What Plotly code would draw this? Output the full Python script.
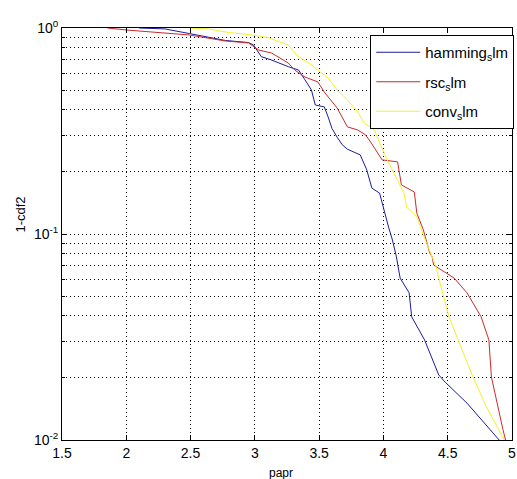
import plotly.graph_objects as go

# ---- data ----
hamming_x = [2.10, 2.30, 2.49, 2.77, 2.95, 2.99, 3.05, 3.13, 3.26, 3.34, 3.39, 3.44, 3.47, 3.54,
             3.57, 3.60, 3.64, 3.68, 3.72, 3.82, 3.87, 3.91, 3.97, 4.01, 4.04, 4.07, 4.10, 4.13,
             4.20, 4.22, 4.32, 4.43, 4.48, 4.65, 4.90]
hamming_y = [1.0, 0.99, 0.94, 0.87, 0.85, 0.827, 0.726, 0.699, 0.649, 0.625, 0.560, 0.500, 0.423, 0.414,
             0.370, 0.325, 0.295, 0.271, 0.258, 0.242, 0.205, 0.167, 0.158, 0.126, 0.108, 0.0935, 0.078, 0.0611,
             0.0518, 0.0396, 0.0306, 0.0207, 0.0191, 0.0151, 0.0100]

rsc_x = [1.855, 2.0, 2.49, 2.64, 2.77, 2.95, 3.03, 3.13, 3.26, 3.31, 3.39, 3.49, 3.54, 3.59, 3.64,
         3.72, 3.80, 3.86, 3.89, 3.99, 4.11, 4.14, 4.24, 4.26, 4.31, 4.36, 4.38, 4.39, 4.55, 4.65,
         4.76, 4.82, 4.84, 4.93, 4.95]
rsc_y = [1.0, 0.978, 0.925, 0.894, 0.865, 0.846, 0.782, 0.756, 0.676, 0.625, 0.578, 0.547, 0.489, 0.447, 0.409,
         0.331, 0.320, 0.303, 0.286, 0.229, 0.224, 0.173, 0.160, 0.126, 0.105, 0.0809, 0.0773, 0.0707, 0.0611, 0.0518,
         0.0396, 0.0306, 0.0202, 0.0112, 0.0100]

conv_x = [2.49, 2.64, 2.80, 2.95, 3.10, 3.20, 3.26, 3.34, 3.41, 3.49, 3.57, 3.64, 3.72, 3.80, 3.85,
          3.93, 3.97, 4.03, 4.08, 4.16, 4.18, 4.26, 4.31, 4.38, 4.41, 4.43, 4.51, 4.59, 4.70, 4.80, 4.94]
conv_y = [1.0, 0.99, 0.95, 0.93, 0.90, 0.855, 0.827, 0.723, 0.684, 0.625, 0.572, 0.500, 0.447, 0.391, 0.346,
          0.320, 0.277, 0.229, 0.198, 0.158, 0.135, 0.121, 0.099, 0.0773, 0.0692, 0.0611, 0.0396, 0.0296, 0.0200,
          0.0145, 0.0100]

series_names = ["hamming<sub>s</sub>lm", "rsc<sub>s</sub>lm", "conv<sub>s</sub>lm"]
series_colors = ["#1c1c9c", "#cc2a2a", "#f2f22a"]

x_tickvals = [1.5, 2, 2.5, 3, 3.5, 4, 4.5, 5]
x_ticktext = ["1.5", "2", "2.5", "3", "3.5", "4", "4.5", "5"]
y_tickvals = [1, 0.1, 0.01]
y_ticktext = ["10<sup>0</sup>", "10<sup>-1</sup>", "10<sup>-2</sup>"]
y_minor = [m * d for d in (0.01, 0.1) for m in range(2, 10)]

x_title = "papr"
y_title = "1-cdf2"

FONT = "Liberation Sans, Arial, sans-serif"

fig = go.Figure()
for i, (xs, ys) in enumerate([(hamming_x, hamming_y), (rsc_x, rsc_y), (conv_x, conv_y)]):
    fig.add_trace(go.Scatter(x=xs, y=ys, mode="lines", name=series_names[i],
                             legendgroup=f"g{i}",
                             line=dict(color=series_colors[i], width=1)))

grid = dict(gridcolor="black", gridwidth=1, griddash="1px,3px")

fig.update_layout(
    width=517, height=479,
    margin=dict(l=62, r=1, t=28, b=39),
    paper_bgcolor="white", plot_bgcolor="white",
    font=dict(family=FONT, size=14, color="black"),
    showlegend=True,
    legend=dict(x=0.685, y=0.983, xanchor="left", yanchor="top",
                bgcolor="white", bordercolor="black", borderwidth=1,
                font=dict(family=FONT, size=15, color="black"),
                tracegroupgap=7, itemwidth=44),
    xaxis=dict(range=[1.5, 5], tickmode="array", tickvals=x_tickvals, ticktext=x_ticktext,
               showgrid=True, **grid, zeroline=False,
               showline=True, linecolor="black", linewidth=1, mirror="ticks",
               ticks="inside", ticklen=5, tickcolor="black", ticklabeloverflow="allow",
               tickfont=dict(family=FONT, size=14, color="black")),
    yaxis=dict(type="log", range=[-2, 0], tickmode="array", tickvals=y_tickvals, ticktext=y_ticktext,
               showgrid=True, **grid, zeroline=False,
               showline=True, linecolor="black", linewidth=1, mirror="ticks",
               ticks="inside", ticklen=5, tickcolor="black", ticklabeloverflow="allow",
               tickfont=dict(family=FONT, size=14, color="black"),
               minor=dict(tickmode="array", tickvals=y_minor, showgrid=True, **grid,
                          ticks="inside", ticklen=3, tickcolor="black")),
    annotations=[
        dict(text=x_title, xref="paper", yref="paper", x=0.487, y=-0.080,
             xanchor="center", yanchor="middle",
             showarrow=False, font=dict(family=FONT, size=12, color="black")),
        dict(text=y_title, xref="paper", yref="paper", x=-0.0925, y=0.548, textangle=-90,
             xanchor="center", yanchor="middle",
             showarrow=False, font=dict(family=FONT, size=13, color="black")),
    ],
)

# remove the default 8px page margin so the 517x479 figure fills the window exactly
fig.write_html("out.html",
               config={"displayModeBar": False},
               post_script="document.body.style.margin='0';document.body.style.overflow='hidden';")
